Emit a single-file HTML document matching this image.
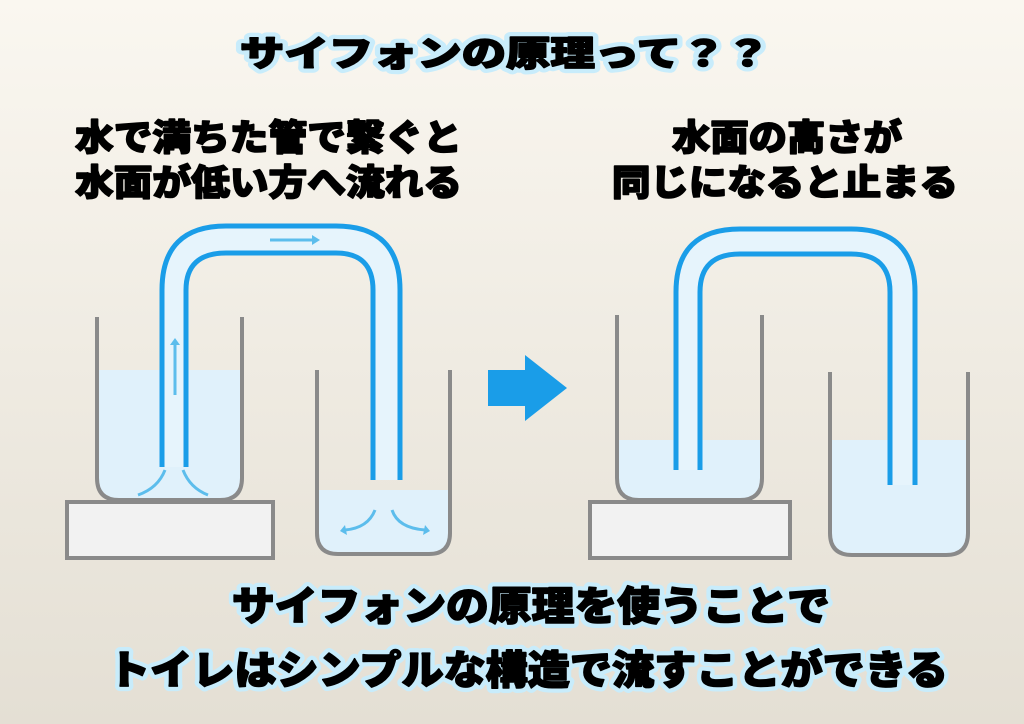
<!DOCTYPE html>
<html><head><meta charset="utf-8"><style>
html,body{margin:0;padding:0;}
body{width:1024px;height:724px;overflow:hidden;background:linear-gradient(#faf7f0,#e4dfd4);}
svg{display:block}
text{font-family:"Liberation Sans","Noto Sans CJK JP",sans-serif;font-weight:900;fill:#000;stroke:#000;stroke-width:1.6;stroke-linejoin:round}
.o{fill:#c8ecfb;stroke:#c8ecfb;stroke-width:10;}
</style></head><body>
<svg width="1024" height="724" viewBox="0 0 1024 724">
<text class="o" x="240" y="66" font-size="35" textLength="530" lengthAdjust="spacingAndGlyphs">サイフォンの原理って？？</text>
<text x="240" y="66" font-size="35" textLength="530" lengthAdjust="spacingAndGlyphs">サイフォンの原理って？？</text>
<text x="75" y="150" font-size="36" textLength="387" lengthAdjust="spacingAndGlyphs">水で満ちた管で繋ぐと</text>
<text x="75" y="195" font-size="36" textLength="387" lengthAdjust="spacingAndGlyphs">水面が低い方へ流れる</text>
<text x="672" y="150" font-size="36" textLength="230" lengthAdjust="spacingAndGlyphs">水面の高さが</text>
<text x="612" y="195" font-size="36" textLength="346" lengthAdjust="spacingAndGlyphs">同じになると止まる</text>
<text class="o" x="232" y="620" font-size="40" textLength="598" lengthAdjust="spacingAndGlyphs">サイフォンの原理を使うことで</text>
<text class="o" x="108" y="684" font-size="40" textLength="840" lengthAdjust="spacingAndGlyphs">トイレはシンプルな構造で流すことができる</text>
<text x="232" y="620" font-size="40" textLength="598" lengthAdjust="spacingAndGlyphs">サイフォンの原理を使うことで</text>
<text x="108" y="684" font-size="40" textLength="840" lengthAdjust="spacingAndGlyphs">トイレはシンプルな構造で流すことができる</text>

<!-- left diagram -->
<rect x="67" y="502" width="206" height="56" fill="#f2f2f2" stroke="#8a8a8a" stroke-width="4"/>
<path d="M99 370 H240 V480 Q240 499 221 499 H118 Q99 499 99 480 Z" fill="#e0f1fb"/>
<path d="M97 317 V478 Q97 500 119 500 H220 Q242 500 242 478 V317" fill="none" stroke="#8a8a8a" stroke-width="4"/>
<path d="M319 490 H448 V535 Q448 552 431 552 H336 Q319 552 319 535 Z" fill="#e0f1fb"/>
<path d="M317 370 V533 Q317 554 338 554 H429 Q450 554 450 533 V370" fill="none" stroke="#8a8a8a" stroke-width="4"/>
<path d="M162 467 V290 Q162 226 226 226 H336 Q400 226 400 290 V480 H373 V290 Q373 253 336 253 H226 Q186 253 186 290 V467 Z" fill="#e6f4fc"/>
<path d="M162 467 V290 Q162 226 226 226 H336 Q400 226 400 290 V480" fill="none" stroke="#1a9de8" stroke-width="5"/>
<path d="M186 467 V290 Q186 253 226 253 H336 Q373 253 373 290 V480" fill="none" stroke="#1a9de8" stroke-width="5"/>
<g stroke="#5cbdec" stroke-width="3" fill="none">
<path d="M270 240 H312"/><path d="M175 395 V345"/>
<path d="M138 495 Q158 488 165 470"/><path d="M183 470 Q190 488 208 495"/>
<path d="M375 510 Q368 528 345 530"/><path d="M392 510 Q398 528 425 530"/>
</g>
<g fill="#5cbdec"><path d="M312 235 L320 240 L312 245Z"/><path d="M170 345 L175 338 L180 345Z"/><path d="M345 525 L340 531 L347 535Z"/><path d="M425 525 L430 531 L423 535Z"/></g>

<polygon points="488,370 525,370 525,355 567,388 525,421 525,406 488,406" fill="#1a9de8"/>

<!-- right diagram -->
<rect x="590" y="502" width="200" height="56" fill="#f2f2f2" stroke="#8a8a8a" stroke-width="4"/>
<path d="M619 440 H760 V480 Q760 499 741 499 H638 Q619 499 619 480 Z" fill="#e0f1fb"/>
<path d="M617 315 V478 Q617 500 639 500 H740 Q762 500 762 478 V315" fill="none" stroke="#8a8a8a" stroke-width="4"/>
<path d="M832 440 H966 V535 Q966 553 948 553 H850 Q832 553 832 535 Z" fill="#e0f1fb"/>
<path d="M830 372 V533 Q830 555 852 555 H946 Q968 555 968 533 V372" fill="none" stroke="#8a8a8a" stroke-width="4"/>
<path d="M676 470 V292 Q676 229 740 229 H851 Q915 229 915 292 V485 H890 V292 Q890 254 851 254 H740 Q700 254 700 292 V470 Z" fill="#e6f4fc"/>
<path d="M676 470 V292 Q676 229 740 229 H851 Q915 229 915 292 V485" fill="none" stroke="#1a9de8" stroke-width="5"/>
<path d="M700 470 V292 Q700 254 740 254 H851 Q890 254 890 292 V485" fill="none" stroke="#1a9de8" stroke-width="5"/>
</svg>
</body></html>
